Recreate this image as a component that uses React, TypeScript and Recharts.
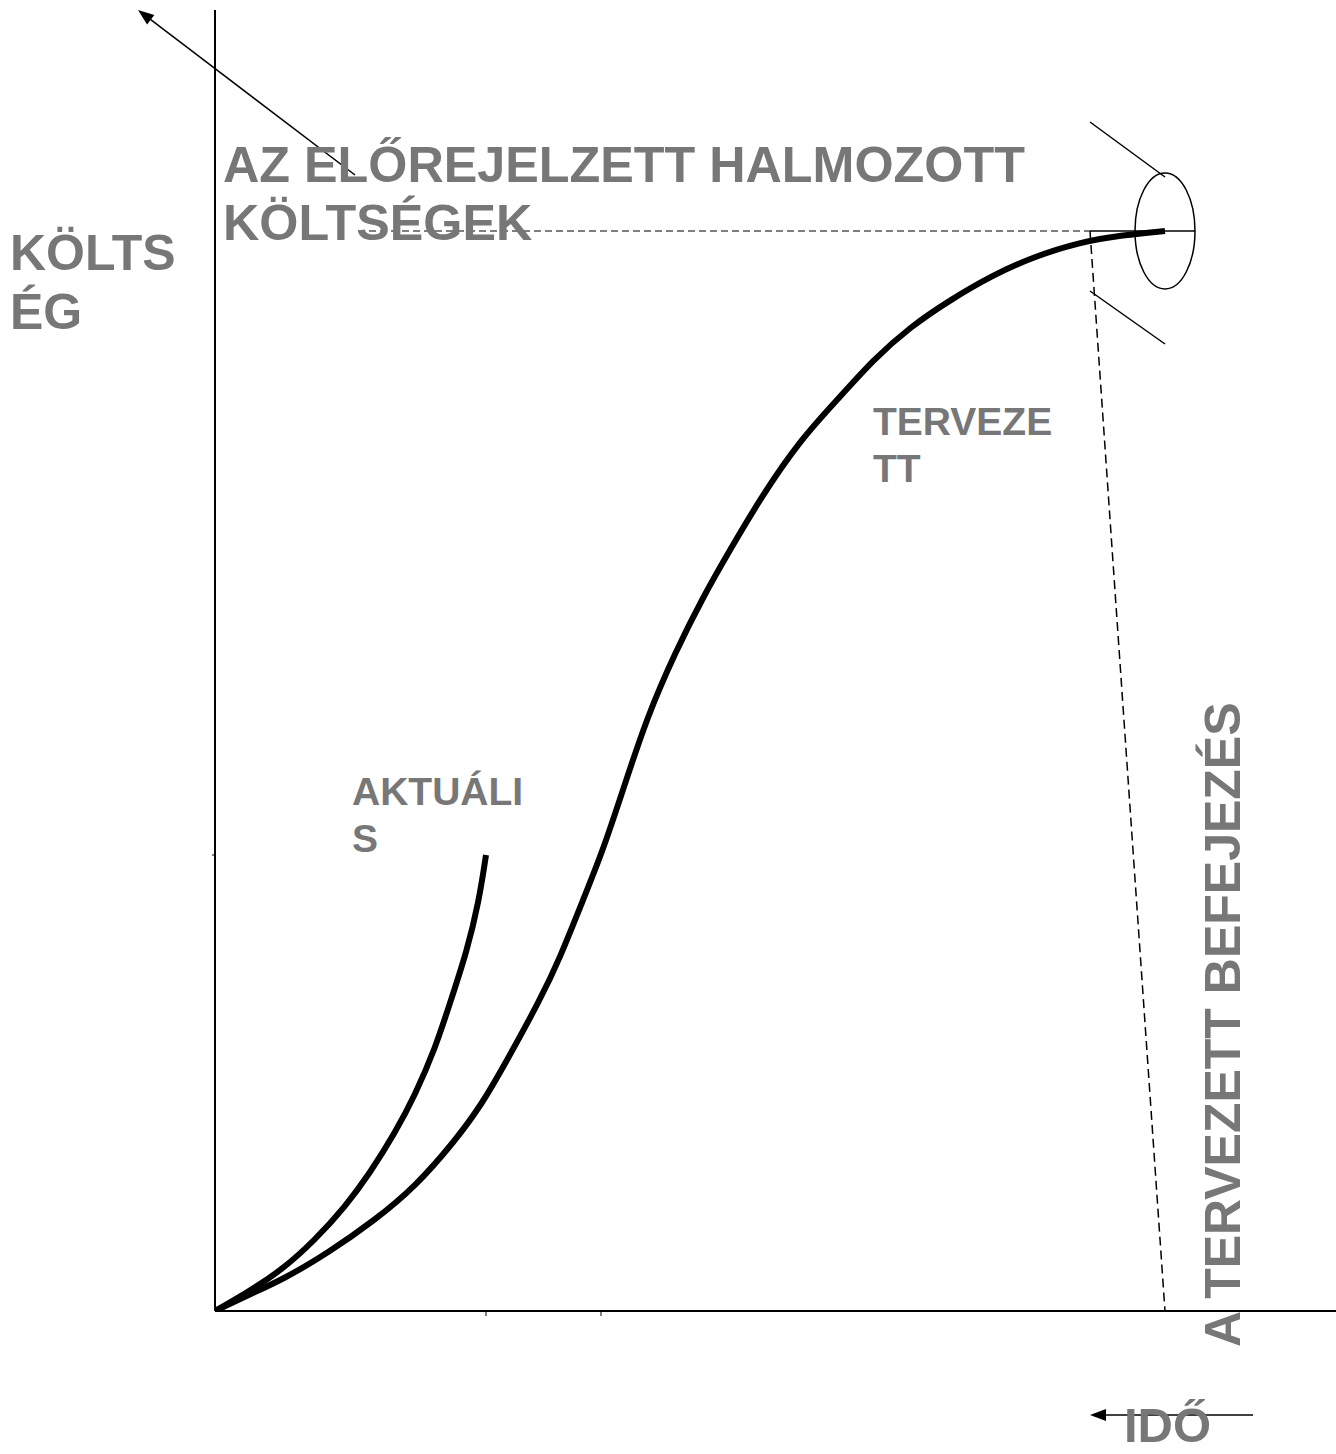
import React from "react"
import { LineChart, Line, XAxis, YAxis, ReferenceLine, ReferenceDot } from "recharts"

// time / cost in arbitrary units (roughly pixels from the origin)
const plannedTime = [0, 33, 67, 113, 160, 200, 240, 267, 290, 325, 345, 368, 387, 407, 432, 460, 488, 515, 545, 585, 625, 658, 695, 735, 778, 818, 865, 908, 950]
const plannedCost = [0, 16, 31, 58, 91, 124, 170, 207, 247, 311, 353, 411, 458, 518, 594, 658, 714, 761, 812, 871, 914, 951, 984, 1011, 1036, 1054, 1069, 1076, 1080]

const actualTime = [0, 33, 67, 100, 130, 155, 180, 200, 220, 235, 252, 264, 271]
const actualCost = [0, 19, 41, 71, 104, 138, 178, 216, 262, 308, 360, 410, 456]

const xTicks = [271, 386]
const yTicks = [456]

const forecastCost = 1080
const forecastLineStart = 143
const forecastLineKnee = 875
const plannedEnd = 950
const forecastLineEnd = 980

const planned = plannedTime.map((t, i) => ({ t, cost: plannedCost[i] }))
const actual = actualTime.map((t, i) => ({ t, cost: actualCost[i] }))

const GREY = "#777777"
const FONT = "'Liberation Sans', Arial, sans-serif"

function Arrow(props: any) {
  const { x1, y1, x2, y2 } = props
  const ang = Math.atan2(y2 - y1, x2 - x1)
  const len = 16
  const w = 6
  const bx = x2 - len * Math.cos(ang)
  const by = y2 - len * Math.sin(ang)
  const px = -Math.sin(ang) * w
  const py = Math.cos(ang) * w
  return (
    <g>
      <line x1={x1} y1={y1} x2={bx} y2={by} stroke="#000" strokeWidth={1.5} />
      <polygon points={`${x2},${y2} ${bx + px},${by + py} ${bx - px},${by - py}`} fill="#000" />
    </g>
  )
}

function Ellipse(props: any) {
  const { cx, cy } = props
  return <ellipse cx={cx} cy={cy} rx={30} ry={58} fill="none" stroke="#000" strokeWidth={1.5} />
}

const noTick = () => <g />

export default function App() {
  return (
    <div style={{ position: "relative", width: 1336, height: 1454 }}>
      <style>{"body{margin:0}"}</style>
      <LineChart width={1336} height={1454} margin={{ top: 10, right: 0, left: 155, bottom: 113 }}>
        <XAxis
          type="number"
          dataKey="t"
          domain={[0, 1121]}
          allowDataOverflow
          ticks={xTicks}
          tick={noTick}
          tickSize={5}
          tickLine={{ stroke: "#000" }}
          axisLine={{ stroke: "#000", strokeWidth: 2 }}
        />
        <YAxis
          type="number"
          dataKey="cost"
          domain={[0, 1301]}
          allowDataOverflow
          ticks={yTicks}
          tick={noTick}
          tickSize={3}
          tickLine={{ stroke: "#000" }}
          axisLine={{ stroke: "#000", strokeWidth: 2 }}
        />
        <ReferenceLine
          segment={[{ x: forecastLineStart, y: forecastCost }, { x: forecastLineKnee, y: forecastCost }]}
          stroke="#000"
          strokeWidth={1.2}
          strokeDasharray="7 4"
        />
        <ReferenceLine
          segment={[{ x: forecastLineKnee, y: forecastCost }, { x: forecastLineEnd, y: forecastCost }]}
          stroke="#000"
          strokeWidth={1.5}
        />
        <ReferenceLine
          segment={[{ x: forecastLineKnee, y: forecastCost }, { x: plannedEnd, y: 0 }]}
          stroke="#000"
          strokeWidth={1.5}
          strokeDasharray="9 5"
        />
        <ReferenceLine segment={[{ x: 875, y: 1189 }, { x: 950, y: 1134 }]} stroke="#000" strokeWidth={1.5} />
        <ReferenceLine segment={[{ x: 875, y: 1020 }, { x: 950, y: 967 }]} stroke="#000" strokeWidth={1.5} />
        <ReferenceLine
          segment={[{ x: 140, y: 1136 }, { x: -77, y: 1301 }]}
          ifOverflow="visible"
          shape={Arrow}
        />
        <ReferenceLine
          segment={[{ x: 1038, y: -104 }, { x: 875, y: -104 }]}
          ifOverflow="visible"
          shape={Arrow}
        />
        <ReferenceDot x={plannedEnd} y={forecastCost} ifOverflow="visible" shape={Ellipse} />
        <Line
          data={planned}
          dataKey="cost"
          type="basis"
          stroke="#000"
          strokeWidth={6}
          dot={false}
          isAnimationActive={false}
        />
        <Line
          data={actual}
          dataKey="cost"
          type="basis"
          stroke="#000"
          strokeWidth={6}
          dot={false}
          isAnimationActive={false}
        />
      </LineChart>
      <svg
        width={1336}
        height={1454}
        style={{ position: "absolute", left: 0, top: 0, pointerEvents: "none" }}
        fontFamily={FONT}
        fontWeight="bold"
        fill={GREY}
      >
        <text x={10} y={270} fontSize={50}>KÖLTS</text>
        <text x={10} y={329} fontSize={50}>ÉG</text>
        <text x={223} y={182} fontSize={50.3}>AZ ELŐREJELZETT HALMOZOTT</text>
        <text x={223} y={240} fontSize={50.3}>KÖLTSÉGEK</text>
        <text x={873} y={435} fontSize={39}>TERVEZE</text>
        <text x={873} y={482} fontSize={39}>TT</text>
        <text x={352} y={805} fontSize={39}>AKTUÁLI</text>
        <text x={352} y={852} fontSize={39}>S</text>
        <text x={1240} y={1347} fontSize={50} transform="rotate(-90 1240 1347)">A TERVEZETT BEFEJEZÉS</text>
        <text x={1124} y={1442} fontSize={49}>IDŐ</text>
      </svg>
    </div>
  )
}
